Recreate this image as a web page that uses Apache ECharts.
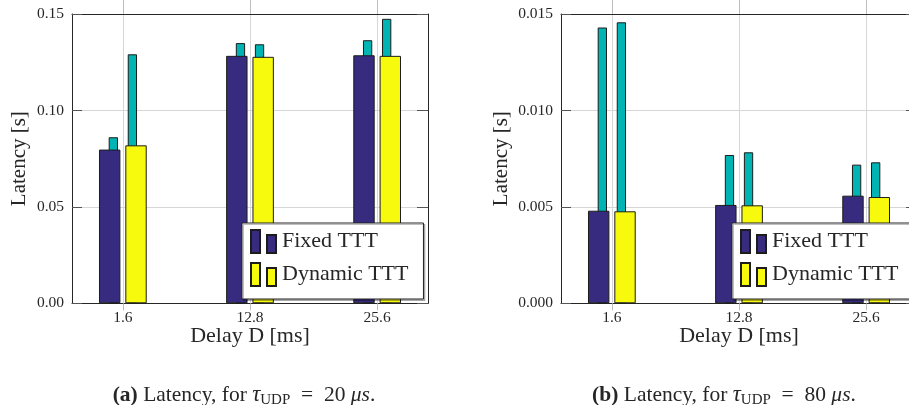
<!DOCTYPE html>
<html>
<head>
<meta charset="utf-8">
<script src="https://cdn.jsdelivr.net/npm/echarts@6/dist/echarts.min.js"></script>
<style>
html,body{margin:0;padding:0;background:#fff;}
#chart{width:909px;height:405px;}
</style>
</head>
<body>
<div id="chart"></div>
<script>
const categories = ['1.6', '12.8', '25.6'];
// (a) tau_UDP = 20 us
const fixedA = [0.0797, 0.1283, 0.1286];
const fixedAMax = [0.0861, 0.1349, 0.1364];
const dynA = [0.0819, 0.1278, 0.1283];
const dynAMax = [0.1291, 0.1343, 0.1475];
// (b) tau_UDP = 80 us
const fixedB = [0.00480, 0.00510, 0.00558];
const fixedBMax = [0.01430, 0.00769, 0.00719];
const dynB = [0.00477, 0.00508, 0.00551];
const dynBMax = [0.01457, 0.00783, 0.00731];
const yTicksA = [0, 0.05, 0.10, 0.15];
const yTicksB = [0, 0.005, 0.010, 0.015];

const FONT = 'Liberation Serif';
const TXT = '#262626';
const BLUE = '#372b80';
const YELLOW = '#f8fa0e';
const TEAL = '#00b4b4';
const GRIDC = '#d6d6d6';
const idx = categories.map((c, i) => i);

function toXY(arr) { return arr.map((v, i) => [i, v]); }

function xBottom(g) {
  return {
    type: 'value', gridIndex: g, min: -0.4, max: 2.4, position: 'bottom',
    axisLine: { show: true, onZero: false, lineStyle: { color: TXT, width: 1 } },
    axisTick: { show: true, customValues: idx, length: 7, lineStyle: { color: '#bdbdbd' } },
    axisLabel: { customValues: idx, formatter: v => categories[Math.round(v)], fontSize: 15.5, fontFamily: FONT, color: TXT, margin: 7 },
    splitLine: { show: true, lineStyle: { color: GRIDC } },
    name: 'Delay D [ms]', nameLocation: 'middle', nameGap: 22, nameMoveOverlap: false,
    nameTextStyle: { fontSize: 22, fontFamily: FONT, color: TXT }
  };
}
function xTop(g) {
  return {
    type: 'value', gridIndex: g, min: -0.4, max: 2.4, position: 'top',
    axisLine: { show: true, onZero: false, lineStyle: { color: TXT, width: 1 } },
    axisTick: { show: true, customValues: idx, length: 14, lineStyle: { color: '#bdbdbd' } },
    axisLabel: { show: false },
    splitLine: { show: false }
  };
}
function yLeft(g, ticks, dec, gap) {
  return {
    type: 'value', gridIndex: g, position: 'left', min: ticks[0], max: ticks[ticks.length - 1],
    interval: ticks[1] - ticks[0],
    axisLine: { show: true, onZero: false, lineStyle: { color: TXT } },
    axisTick: { show: true, inside: true, length: 10, lineStyle: { color: '#555' } },
    axisLabel: { formatter: v => v.toFixed(dec), fontSize: 15.5, fontFamily: FONT, color: TXT, margin: 8 },
    splitLine: { show: true, lineStyle: { color: GRIDC } },
    name: 'Latency [s]', nameLocation: 'middle', nameRotate: 90, nameGap: gap, nameMoveOverlap: false,
    nameTextStyle: { fontSize: 21, fontFamily: FONT, color: TXT }
  };
}
function yRight(g, ticks) {
  return {
    type: 'value', gridIndex: g, position: 'right', min: ticks[0], max: ticks[ticks.length - 1],
    interval: ticks[1] - ticks[0],
    axisLine: { show: true, onZero: false, lineStyle: { color: TXT } },
    axisTick: { show: true, inside: true, length: 11, lineStyle: { color: '#555' } },
    axisLabel: { show: false },
    splitLine: { show: false }
  };
}
function mainBar(name, data, color, xi, yi) {
  return {
    type: 'bar', name, data: toXY(data), xAxisIndex: xi, yAxisIndex: yi,
    barWidth: 21.4, barGap: '23%', z: 3,
    itemStyle: { color, borderColor: '#1c1c1c', borderWidth: 1 }
  };
}
function tealBar(name, data, xi, yi) {
  return {
    type: 'bar', name, data: toXY(data), xAxisIndex: xi, yAxisIndex: yi,
    barWidth: 9.3, barGap: '105%', z: 2,
    itemStyle: { color: TEAL, borderColor: '#1c1c1c', borderWidth: 1 }
  };
}
function legend(left) {
  return {
    data: ['Fixed TTT', 'Dynamic TTT'], orient: 'vertical', left, top: 223,
    icon: 'path://M0,0h9v23h-9zM16,5h9v18h-9z', itemWidth: 25, itemHeight: 23, itemGap: 8,
    padding: [6, 15, 12, 8], backgroundColor: '#fff', borderColor: '#222', borderWidth: 1,
    shadowColor: 'rgba(0,0,0,0.25)', shadowOffsetX: 1.5, shadowOffsetY: 1.5,
    textStyle: { fontSize: 22, fontFamily: FONT, color: TXT, padding: [5, 0, 0, 1] },
    selectedMode: false
  };
}
const rich = {
  b: { fontWeight: 'bold', fontSize: 21.5, fontFamily: FONT, color: TXT, lineHeight: 26 },
  n: { fontWeight: 'normal', fontSize: 21.5, fontFamily: FONT, color: TXT, lineHeight: 26 },
  t: { fontWeight: 'normal', fontSize: 22.5, fontStyle: 'italic', fontFamily: FONT, color: TXT, lineHeight: 26 },
  s: { fontWeight: 'normal', fontSize: 15, fontFamily: FONT, color: TXT, lineHeight: 15, verticalAlign: 'bottom' },
  i: { fontWeight: 'normal', fontSize: 21.5, fontStyle: 'italic', fontFamily: FONT, color: TXT, lineHeight: 26 }
};
function caption(left, label, val) {
  return {
    left, top: 377, textAlign: 'center',
    text: '{b|(' + label + ')}{n| Latency, for }{t|τ}{s|UDP}{n|  =  ' + val + ' }{i|μs}{n|.}',
    textStyle: { rich, fontSize: 21.5, fontWeight: 'normal', fontFamily: FONT }
  };
}

const chart = echarts.init(document.getElementById('chart'), null, { renderer: 'canvas' });
chart.setOption({
  backgroundColor: '#fff',
  animation: false,
  title: [caption(239, 'a', '20'), caption(719, 'b', '80')],
  legend: [legend(242), legend(732)],
  grid: [
    { left: 72, top: 14, width: 356, height: 289.3, outerBoundsMode: 'none', containLabel: false },
    { left: 561, top: 14, width: 356, height: 289.3, outerBoundsMode: 'none', containLabel: false }
  ],
  xAxis: [xBottom(0), xTop(0), xBottom(1), xTop(1)],
  yAxis: [yLeft(0, yTicksA, 2, 42), yRight(0, yTicksA), yLeft(1, yTicksB, 3, 49), yRight(1, yTicksB)],
  series: [
    mainBar('Fixed TTT', fixedA, BLUE, 0, 0),
    mainBar('Dynamic TTT', dynA, YELLOW, 0, 0),
    tealBar('Fixed TTT max', fixedAMax, 1, 0),
    tealBar('Dynamic TTT max', dynAMax, 1, 0),
    mainBar('Fixed TTT', fixedB, BLUE, 2, 2),
    mainBar('Dynamic TTT', dynB, YELLOW, 2, 2),
    tealBar('Fixed TTT max', fixedBMax, 3, 2),
    tealBar('Dynamic TTT max', dynBMax, 3, 2)
  ]
});
</script>
</body>
</html>
